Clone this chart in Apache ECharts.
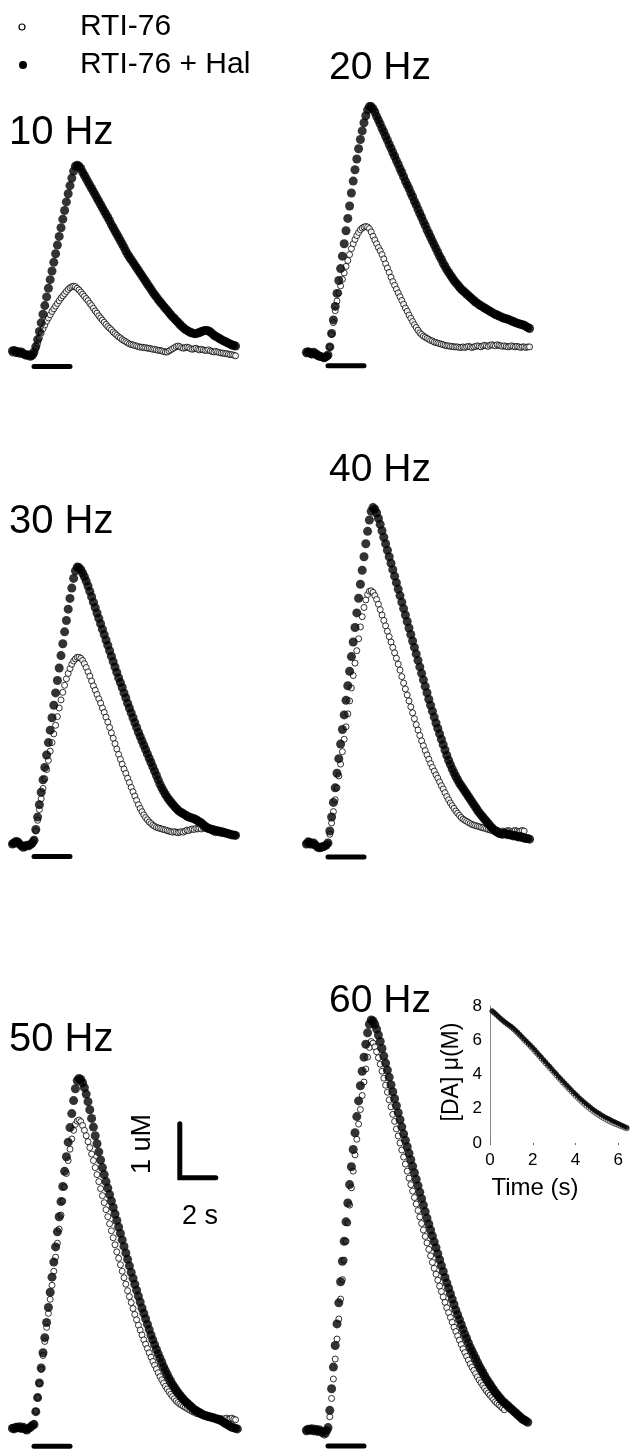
<!DOCTYPE html>
<html><head><meta charset="utf-8">
<script src="https://cdn.jsdelivr.net/npm/echarts/dist/echarts.min.js"></script>
<style>html,body{margin:0;padding:0;background:#fff}#c{width:631px;height:1452px}</style>
</head><body><div id="c"></div>
<script>
// ---------------- DATA ----------------
// time grid of every trace: first sample at T0 (s, stimulus onset = 0), one sample every DT s
const T0 = -1.2, DT = 0.1;
const seriesNames = ['RTI-76', 'RTI-76 + Hal'];
const panelLabels = ['10 Hz', '20 Hz', '30 Hz', '40 Hz', '50 Hz', '60 Hz'];
const stimStart = 0, stimEnd = 2;          // stimulation bar (s)
const scaleBarT = 8.1, scaleBarV = 4.67;   // scale bar corner (s, uM) in the 50 Hz panel
const scaleBarSec = 2, scaleBarUM = 1;

// [DA] above baseline (uM)
const rti10 = [-0.02,0.00,-0.03,-0.02,-0.04,-0.03,-0.05,-0.06,-0.07,-0.06,-0.08,-0.07,
 -0.04,0.06,0.16,0.26,0.35,0.43,0.50,0.57,0.63,0.69,0.75,0.80,0.85,0.90,0.95,1.00,1.04,1.08,1.12,1.16,1.19,1.21,1.22,
 1.21,1.18,1.15,1.11,1.07,1.03,0.99,0.95,0.90,0.86,0.81,0.76,0.72,0.67,0.63,0.59,0.55,0.51,0.47,0.44,0.41,0.37,0.34,0.31,0.28,0.26,0.23,0.21,0.19,0.17,0.15,0.14,0.13,0.12,0.11,0.10,0.09,0.09,0.08,0.08,0.07,0.07,0.06,0.05,0.05,0.04,0.03,0.03,0.02,0.01,0.00,0.00,0.02,0.04,0.06,0.08,0.10,0.11,0.10,0.08,0.07,0.08,0.09,0.08,0.06,0.05,0.06,0.07,0.05,0.04,0.05,0.04,0.03,0.03,0.04,0.02,0.01,0.00,0.01,0.00,-0.01,-0.02,-0.02,-0.03,-0.03,-0.04,-0.05,-0.05,-0.06,-0.07];
const hal10 = [0.02,0.03,0.00,0.01,-0.02,0.00,-0.03,-0.05,-0.06,-0.05,-0.08,-0.06,
 0.00,0.10,0.23,0.38,0.54,0.70,0.86,1.02,1.18,1.34,1.50,1.66,1.82,1.98,2.14,2.30,2.46,2.62,2.78,2.93,3.08,3.22,3.35,3.44,3.46,
 3.44,3.40,3.33,3.27,3.21,3.15,3.09,3.03,2.97,2.91,2.85,2.79,2.73,2.67,2.61,2.55,2.49,2.43,2.36,2.30,2.24,2.18,2.12,2.06,2.00,1.94,1.87,1.81,1.76,1.71,1.66,1.61,1.56,1.51,1.46,1.41,1.36,1.31,1.26,1.21,1.16,1.11,1.06,1.02,0.97,0.93,0.89,0.85,0.81,0.77,0.73,0.69,0.65,0.62,0.58,0.55,0.51,0.48,0.45,0.42,0.40,0.38,0.36,0.35,0.34,0.34,0.35,0.36,0.38,0.39,0.40,0.40,0.39,0.37,0.34,0.31,0.29,0.27,0.25,0.23,0.21,0.20,0.18,0.16,0.15,0.13,0.12,0.11];
const rti20 = [0.02,0.03,0.01,0.00,0.02,0.00,-0.02,-0.03,-0.04,-0.05,-0.06,-0.04,
 -0.02,0.15,0.38,0.60,0.82,1.00,1.15,1.28,1.40,1.52,1.64,1.75,1.86,1.97,2.06,2.14,2.21,2.27,2.32,2.35,2.37,2.38,2.37,
 2.34,2.28,2.20,2.13,2.06,1.99,1.93,1.86,1.78,1.69,1.61,1.53,1.44,1.36,1.29,1.22,1.15,1.08,1.01,0.94,0.87,0.81,0.74,0.68,0.62,0.56,0.51,0.46,0.41,0.38,0.35,0.33,0.31,0.29,0.27,0.26,0.24,0.23,0.22,0.21,0.20,0.19,0.18,0.17,0.17,0.16,0.16,0.15,0.15,0.15,0.14,0.14,0.15,0.14,0.15,0.16,0.15,0.14,0.15,0.16,0.17,0.16,0.15,0.17,0.18,0.17,0.16,0.18,0.19,0.18,0.17,0.19,0.18,0.17,0.16,0.17,0.16,0.15,0.16,0.17,0.16,0.15,0.16,0.15,0.14,0.15,0.15,0.14,0.15,0.15];
const hal20 = [0.05,0.06,0.04,0.02,0.05,0.03,0.00,-0.02,-0.03,-0.04,-0.05,-0.03,
 0.00,0.15,0.40,0.65,0.90,1.14,1.38,1.60,1.83,2.06,2.30,2.53,2.76,3.00,3.22,3.43,3.63,3.82,3.99,4.15,4.30,4.43,4.54,4.60,
 4.60,4.56,4.50,4.42,4.35,4.28,4.20,4.13,4.05,3.98,3.90,3.83,3.75,3.68,3.60,3.53,3.45,3.38,3.30,3.22,3.15,3.08,3.00,2.93,2.85,2.78,2.70,2.62,2.55,2.47,2.40,2.32,2.25,2.18,2.11,2.04,1.97,1.90,1.83,1.77,1.70,1.64,1.58,1.53,1.48,1.43,1.38,1.34,1.30,1.26,1.22,1.19,1.16,1.13,1.10,1.07,1.04,1.01,0.98,0.96,0.93,0.91,0.89,0.87,0.85,0.83,0.81,0.79,0.77,0.75,0.74,0.72,0.71,0.69,0.68,0.67,0.66,0.65,0.63,0.62,0.60,0.59,0.58,0.57,0.56,0.55,0.53,0.51,0.49];
const rti30 = [0.00,-0.02,0.01,0.00,-0.03,-0.05,-0.06,-0.08,-0.05,-0.06,-0.04,-0.02,
 0.05,0.22,0.42,0.62,0.82,1.01,1.19,1.36,1.53,1.70,1.86,2.02,2.18,2.34,2.50,2.65,2.79,2.92,3.04,3.14,3.23,3.31,3.37,3.41,3.44,3.44,
 3.42,3.38,3.32,3.25,3.17,3.09,3.00,2.91,2.83,2.75,2.67,2.59,2.50,2.42,2.33,2.24,2.14,2.04,1.94,1.84,1.74,1.64,1.55,1.46,1.37,1.29,1.20,1.12,1.03,0.95,0.87,0.79,0.71,0.64,0.58,0.52,0.47,0.43,0.39,0.36,0.33,0.31,0.29,0.28,0.27,0.26,0.25,0.24,0.23,0.22,0.21,0.20,0.21,0.20,0.19,0.20,0.21,0.20,0.22,0.24,0.23,0.25,0.26,0.25,0.27,0.26,0.27,0.26,0.28,0.27,0.26,0.25,0.24,0.22,0.20,0.19,0.21,0.24,0.23,0.22,0.20,0.19,0.18,0.17,0.16,0.15,0.15];
const hal30 = [-0.02,0.00,0.03,0.02,-0.02,-0.05,-0.08,-0.06,-0.04,-0.05,-0.03,0.00,
 0.05,0.25,0.48,0.71,0.94,1.17,1.40,1.63,1.86,2.09,2.32,2.55,2.78,3.01,3.24,3.47,3.69,3.91,4.12,4.33,4.53,4.72,4.90,5.04,5.11,
 5.10,5.06,5.00,4.93,4.85,4.76,4.66,4.56,4.46,4.36,4.26,4.16,4.06,3.96,3.86,3.76,3.66,3.56,3.46,3.36,3.26,3.16,3.06,2.97,2.88,2.78,2.69,2.59,2.50,2.41,2.32,2.23,2.14,2.05,1.97,1.89,1.81,1.73,1.65,1.57,1.49,1.41,1.33,1.25,1.17,1.09,1.02,0.96,0.90,0.85,0.80,0.76,0.72,0.68,0.64,0.61,0.58,0.56,0.54,0.52,0.50,0.48,0.47,0.46,0.45,0.43,0.41,0.39,0.37,0.34,0.31,0.29,0.27,0.26,0.25,0.24,0.23,0.22,0.21,0.20,0.20,0.19,0.18,0.17,0.16,0.15,0.15,0.14];
const rti40 = [0.02,0.00,-0.02,0.01,0.00,-0.03,-0.05,-0.06,-0.08,-0.07,-0.05,-0.03,
 0.00,0.18,0.39,0.60,0.82,1.04,1.26,1.48,1.71,1.94,2.17,2.41,2.65,2.89,3.12,3.35,3.58,3.80,4.02,4.21,4.38,4.52,4.62,4.68,4.69,
 4.66,4.60,4.53,4.44,4.34,4.24,4.14,4.04,3.94,3.84,3.74,3.64,3.54,3.44,3.33,3.22,3.10,2.98,2.87,2.76,2.65,2.54,2.43,2.32,2.21,2.11,2.01,1.91,1.82,1.73,1.65,1.57,1.49,1.42,1.35,1.28,1.22,1.15,1.08,1.02,0.95,0.88,0.82,0.76,0.71,0.66,0.61,0.57,0.53,0.49,0.46,0.44,0.42,0.40,0.38,0.36,0.35,0.34,0.33,0.32,0.31,0.30,0.29,0.28,0.27,0.26,0.25,0.25,0.24,0.25,0.24,0.23,0.24,0.23,0.24,0.25,0.24,0.23,0.24,0.25,0.24,0.23,0.24,0.25,0.24];
const hal40 = [0.00,0.04,0.03,0.00,0.02,-0.02,-0.05,-0.07,-0.06,-0.05,-0.04,-0.02,
 0.02,0.24,0.50,0.77,1.04,1.31,1.58,1.85,2.12,2.39,2.66,2.93,3.20,3.47,3.74,4.01,4.28,4.55,4.81,5.07,5.32,5.56,5.79,6.00,6.16,6.23,
 6.20,6.13,6.03,5.92,5.80,5.68,5.56,5.44,5.32,5.20,5.08,4.96,4.84,4.72,4.60,4.48,4.36,4.24,4.12,4.00,3.88,3.76,3.64,3.52,3.40,3.28,3.16,3.04,2.92,2.80,2.68,2.57,2.46,2.35,2.24,2.14,2.04,1.94,1.84,1.74,1.64,1.55,1.47,1.39,1.32,1.25,1.19,1.13,1.08,1.03,0.98,0.93,0.88,0.83,0.78,0.73,0.68,0.63,0.58,0.54,0.50,0.46,0.42,0.38,0.34,0.30,0.27,0.24,0.22,0.20,0.19,0.18,0.20,0.19,0.17,0.18,0.16,0.15,0.16,0.14,0.13,0.14,0.12,0.11,0.10,0.10,0.09];
const rti50 = [0.05,0.03,0.06,0.04,0.02,0.05,0.03,0.00,0.02,0.05,0.07,0.10,
 0.12,0.35,0.60,0.86,1.12,1.38,1.64,1.90,2.16,2.42,2.68,2.94,3.20,3.46,3.72,3.98,4.24,4.50,4.75,4.99,5.20,5.39,5.55,5.66,5.72,5.74,
 5.71,5.64,5.55,5.45,5.34,5.23,5.11,4.99,4.86,4.73,4.60,4.47,4.34,4.21,4.08,3.95,3.82,3.69,3.56,3.43,3.30,3.18,3.06,2.94,2.82,2.70,2.58,2.47,2.36,2.25,2.14,2.04,1.94,1.85,1.76,1.67,1.59,1.51,1.43,1.35,1.27,1.20,1.13,1.06,0.99,0.93,0.87,0.81,0.76,0.71,0.66,0.62,0.58,0.54,0.51,0.48,0.46,0.44,0.42,0.40,0.38,0.36,0.34,0.33,0.31,0.30,0.29,0.28,0.27,0.26,0.25,0.24,0.24,0.23,0.23,0.22,0.22,0.21,0.21,0.20,0.21,0.22,0.20,0.21,0.22,0.20,0.19];
const hal50 = [0.03,0.02,0.05,0.04,0.06,0.03,0.05,0.02,0.00,0.03,0.05,0.08,
 0.10,0.34,0.60,0.87,1.15,1.43,1.71,1.99,2.27,2.55,2.83,3.11,3.39,3.67,3.95,4.23,4.51,4.79,5.06,5.33,5.60,5.86,6.10,6.32,6.47,6.51,
 6.49,6.43,6.34,6.22,6.08,5.93,5.77,5.61,5.45,5.30,5.15,5.00,4.86,4.73,4.60,4.48,4.36,4.24,4.12,4.00,3.88,3.76,3.64,3.52,3.40,3.28,3.16,3.04,2.92,2.81,2.70,2.59,2.48,2.37,2.26,2.16,2.06,1.96,1.86,1.76,1.67,1.58,1.49,1.41,1.33,1.25,1.17,1.10,1.03,0.96,0.90,0.84,0.79,0.74,0.69,0.65,0.61,0.57,0.53,0.50,0.47,0.44,0.41,0.38,0.36,0.34,0.32,0.30,0.28,0.27,0.26,0.25,0.24,0.23,0.22,0.21,0.20,0.19,0.17,0.15,0.13,0.11,0.09,0.07,0.05,0.04,0.03,0.02];
const rti60 = [0.02,0.04,0.03,0.05,0.02,0.04,0.01,0.03,0.00,-0.02,-0.04,-0.02,
 0.05,0.30,0.64,1.00,1.37,1.74,2.11,2.48,2.84,3.20,3.55,3.89,4.22,4.54,4.85,5.15,5.44,5.72,5.99,6.25,6.50,6.74,6.96,7.14,7.25,
 7.22,7.15,7.06,6.95,6.83,6.70,6.57,6.44,6.31,6.17,6.04,5.90,5.77,5.63,5.50,5.37,5.24,5.11,4.98,4.85,4.72,4.60,4.48,4.36,4.24,4.12,4.00,3.88,3.76,3.64,3.52,3.40,3.28,3.16,3.05,2.94,2.83,2.72,2.62,2.52,2.42,2.32,2.23,2.14,2.05,1.96,1.88,1.80,1.72,1.64,1.56,1.49,1.42,1.35,1.28,1.22,1.16,1.10,1.04,0.98,0.93,0.88,0.83,0.78,0.74,0.70,0.66,0.62,0.58,0.55,0.52,0.49,0.46,0.43];
const hal60 = [0.05,0.07,0.06,0.08,0.05,0.07,0.04,0.06,0.03,0.02,0.00,0.04,
 0.10,0.42,0.82,1.22,1.62,2.02,2.41,2.80,3.18,3.55,3.91,4.26,4.60,4.93,5.25,5.56,5.86,6.15,6.43,6.70,6.96,7.20,7.41,7.57,7.65,
 7.63,7.57,7.48,7.37,7.25,7.12,6.98,6.85,6.72,6.59,6.45,6.32,6.19,6.06,5.93,5.80,5.67,5.54,5.42,5.30,5.18,5.06,4.94,4.82,4.70,4.58,4.46,4.34,4.22,4.10,3.98,3.87,3.76,3.65,3.54,3.43,3.32,3.21,3.10,2.99,2.88,2.78,2.68,2.58,2.48,2.38,2.28,2.19,2.10,2.01,1.92,1.83,1.75,1.67,1.59,1.52,1.45,1.38,1.31,1.24,1.18,1.12,1.06,1.00,0.95,0.90,0.85,0.80,0.75,0.71,0.67,0.63,0.59,0.56,0.53,0.50,0.47,0.44,0.41,0.38,0.35,0.32,0.29,0.26,0.24,0.22,0.20];

// inset: 60 Hz clearance, time re-zeroed at the peak
const insetT0 = 0.1, insetDT = 0.1;
const insetHal = [7.72,7.62,7.50,7.38,7.27,7.17,7.07,6.98,6.89,6.80,6.70,6.58,6.46,6.34,6.21,6.08,5.95,5.83,5.71,5.58,5.44,5.30,5.16,5.02,4.88,4.74,4.60,4.46,4.32,4.18,4.04,3.90,3.77,3.63,3.50,3.37,3.24,3.11,2.98,2.86,2.74,2.62,2.51,2.40,2.29,2.19,2.09,1.99,1.90,1.81,1.73,1.65,1.58,1.51,1.44,1.38,1.32,1.26,1.20,1.14,1.08,1.02,0.96,0.90];
const insetRti = [7.68,7.58,7.47,7.35,7.24,7.13,7.03,6.93,6.84,6.74,6.63,6.51,6.39,6.26,6.13,6.00,5.87,5.74,5.61,5.48,5.34,5.20,5.06,4.92,4.78,4.64,4.50,4.36,4.22,4.08,3.94,3.80,3.66,3.52,3.39,3.26,3.13,3.00,2.87,2.74,2.62,2.50,2.38,2.27,2.16,2.06,1.96,1.86,1.77,1.68,1.60,1.52,1.45,1.38,1.31,1.25,1.19,1.13,1.08,1.03,0.98,0.93,0.88,0.84];
const insetXTicks = [0, 2, 4, 6];
const insetYTicks = [0, 2, 4, 6, 8];

// ---------------- LAYOUT ----------------
const FONT = "'Liberation Sans', Arial, Helvetica, sans-serif";
const PXS = 18, PXU = 54, XMIN = -1.5, XMAX = 11.5, YMIN = -0.5;
const panels = [
  {rti: rti10, hal: hal10, left: 7,   base: 352,  max: 4, stim: -0.27},
  {rti: rti20, hal: hal20, left: 301, base: 355,  max: 5, stim: -0.20},
  {rti: rti30, hal: hal30, left: 7,   base: 843,  max: 6, stim: -0.25},
  {rti: rti40, hal: hal40, left: 301, base: 844,  max: 7, stim: -0.24},
  {rti: rti50, hal: hal50, left: 7,   base: 1430, max: 7, stim: -0.30},
  {rti: rti60, hal: hal60, left: 301, base: 1433, max: 8, stim: -0.24}
];
const labelPos = [[9,133,40],[329,68,39],[9,522,40],[329,470,39],[9,1040,40],[329,1001,39]];

function toXY(arr, t0, dt) { return arr.map((v, i) => [+(t0 + i * dt).toFixed(2), v]); }

const grid = [], xAxis = [], yAxis = [], series = [];
const openStyle = {color: '#fff', borderColor: '#000', borderWidth: 1};
const fillStyle = {color: '#000'};

panels.forEach((p, i) => {
  grid.push({left: p.left, top: p.base - p.max * PXU, width: (XMAX - XMIN) * PXS,
             height: (p.max - YMIN) * PXU, containLabel: false, outerBoundsMode: 'none'});
  xAxis.push({type: 'value', gridIndex: i, min: XMIN, max: XMAX, show: false});
  yAxis.push({type: 'value', gridIndex: i, min: YMIN, max: p.max, show: false});
  series.push({name: seriesNames[0], type: 'scatter', xAxisIndex: i, yAxisIndex: i, z: 2,
               symbol: 'circle', symbolSize: 6, itemStyle: openStyle, data: toXY(p.rti, T0, DT)});
  series.push({name: seriesNames[1], type: 'scatter', xAxisIndex: i, yAxisIndex: i, z: 3,
               symbol: 'circle', symbolSize: 9, itemStyle: fillStyle, data: toXY(p.hal, T0, DT)});
  series.push({name: 'stim', type: 'line', xAxisIndex: i, yAxisIndex: i, z: 4, symbol: 'none', silent: true,
               lineStyle: {color: '#000', width: 5, cap: 'round'},
               data: [[stimStart, p.stim], [stimEnd, p.stim]]});
});

// scale bar in the 50 Hz panel
series.push({name: 'scale', type: 'line', xAxisIndex: 4, yAxisIndex: 4, z: 4, symbol: 'none', silent: true,
  lineStyle: {color: '#000', width: 5, cap: 'round', join: 'miter'},
  data: [[scaleBarT, scaleBarV + scaleBarUM], [scaleBarT, scaleBarV], [scaleBarT + scaleBarSec, scaleBarV]]});

// inset
grid.push({left: 490, top: 1006, width: 139, height: 137, containLabel: false, outerBoundsMode: 'none'});
xAxis.push({type: 'value', gridIndex: 6, min: 0, max: 6.5,
  axisLine: {show: false}, splitLine: {show: false},
  axisTick: {show: true, length: 2, customValues: insetXTicks, lineStyle: {color: '#666', width: 1}},
  axisLabel: {customValues: insetXTicks, fontSize: 17, color: '#000', margin: 9, fontFamily: FONT}});
yAxis.push({type: 'value', gridIndex: 6, min: 0, max: 8, interval: 2,
  axisLine: {show: true, lineStyle: {color: '#888', width: 1}}, axisTick: {show: false},
  splitLine: {show: false},
  axisLabel: {customValues: insetYTicks, fontSize: 17, color: '#000', margin: 8, fontFamily: FONT}});
series.push({name: seriesNames[0], type: 'scatter', xAxisIndex: 6, yAxisIndex: 6, z: 2,
  symbol: 'circle', symbolSize: 4.5, itemStyle: {color: '#fff', borderColor: '#333', borderWidth: 1},
  data: toXY(insetRti, insetT0, insetDT)});
series.push({name: seriesNames[1], type: 'scatter', xAxisIndex: 6, yAxisIndex: 6, z: 3,
  symbol: 'circle', symbolSize: 5, itemStyle: fillStyle, data: toXY(insetHal, insetT0, insetDT)});

function txt(text, x, y, size, opts) {
  return Object.assign({type: 'text', x: x, y: y, z: 10, silent: true,
    style: Object.assign({text: text, font: size + 'px ' + FONT, fill: '#000',
      align: 'left', verticalAlign: 'middle', textAlign: 'left', textVerticalAlign: 'middle'}, (opts && opts.style) || {})},
    opts && opts.rotation ? {rotation: opts.rotation} : {});
}
const center = {style: {align: 'center', textAlign: 'center'}};
const graphic = [
  {type: 'circle', shape: {cx: 22, cy: 27, r: 3}, style: {fill: '#fff', stroke: '#000', lineWidth: 1.2}, silent: true},
  txt(seriesNames[0], 80, 27, 30),
  {type: 'circle', shape: {cx: 23, cy: 65, r: 4}, style: {fill: '#000'}, silent: true},
  txt(seriesNames[1], 80, 65, 30),
  txt('1 uM', 143, 1144, 27, {rotation: Math.PI / 2, style: center.style}),
  txt('2 s', 200, 1217, 27, center),
  txt('[DA] \u03bc(M)', 452, 1072, 23, {rotation: Math.PI / 2, style: center.style}),
  txt('Time (s)', 535, 1188, 24, center)
];
panelLabels.forEach((l, i) => graphic.push(txt(l, labelPos[i][0], labelPos[i][1], labelPos[i][2])));

const chart = echarts.init(document.getElementById('c'), null, {renderer: 'canvas'});
chart.setOption({animation: false, backgroundColor: '#fff', grid, xAxis, yAxis, series, graphic});
</script></body></html>
